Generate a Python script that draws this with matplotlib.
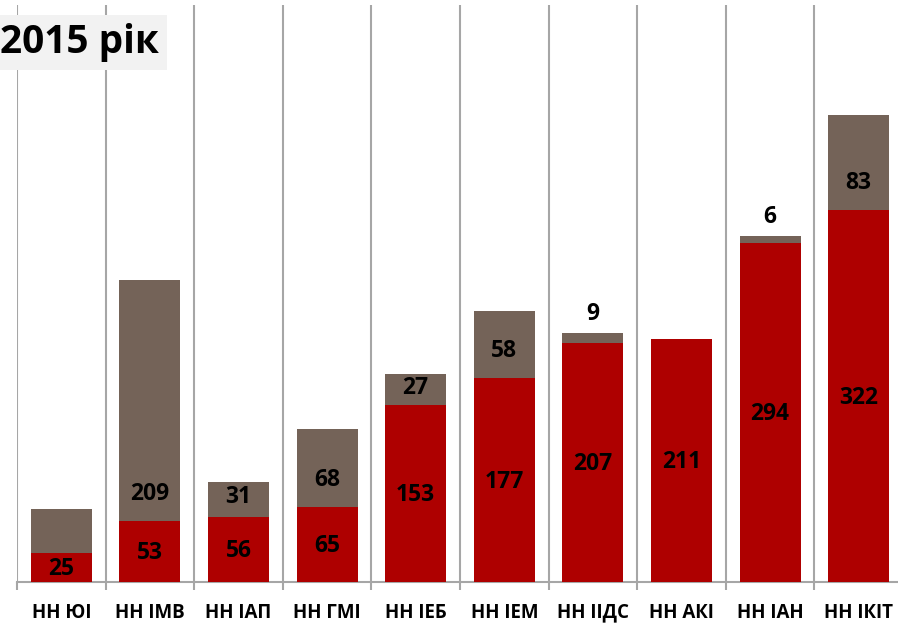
import matplotlib.pyplot as plt
import numpy as np

categories = ['НН ЮІ', 'НН ІМВ', 'НН ІАП', 'НН ГМІ', 'НН ІЕБ',
              'НН ІЕМ', 'НН ІІДС', 'НН АКІ', 'НН ІАН', 'НН ІКІТ']
red_vals = [25, 53, 56, 65, 153, 177, 207, 211, 294, 322]
brown_vals = [38, 209, 31, 68, 27, 58, 9, 0, 6, 83]
brown_labels = ['', '209', '31', '68', '27', '58', '9', '', '6', '83']

red = '#AE0000'
brown = '#746358'
grid_col = '#A6A6A6'

plt.rcParams['font.family'] = ['Open Sans', 'DejaVu Sans']

fig = plt.figure(figsize=(8.98, 6.29), dpi=100)
ax = fig.add_axes([17 / 898, 47 / 629, 886 / 898, 577 / 629])

x = np.arange(len(categories))
w = 0.69
ax.bar(x, red_vals, width=w, color=red, zorder=3)
ax.bar(x, brown_vals, width=w, bottom=red_vals, color=brown, zorder=3)

# labels for the red part, centred in the segment
for i, v in enumerate(red_vals):
    ax.text(x[i], v / 2 - 1.5, str(v), ha='center', va='center',
            fontsize=16.5, fontweight='bold', zorder=4)

# labels for the brown part: a bit above the red part, or above the bar if thin
for i, lab in enumerate(brown_labels):
    if not lab:
        continue
    if brown_vals[i] < 15:
        ax.annotate(lab, (x[i], red_vals[i] + brown_vals[i]), xytext=(0, 5),
                    textcoords='offset points', ha='center', va='bottom',
                    fontsize=16.5, fontweight='bold', zorder=4)
    else:
        y = red_vals[i] + min(23.4, brown_vals[i] / 2 + 2)
        ax.text(x[i], y, lab, ha='center', va='center',
                fontsize=16.5, fontweight='bold', zorder=4)

ax.set_xlim(-0.5, len(categories) - 0.5)
ax.set_ylim(0, 500)

bounds = np.arange(-0.5, len(categories), 1.0)
for b in bounds:
    ax.axvline(b, color=grid_col, linewidth=1.5, zorder=1)

for s in ['left', 'right', 'top']:
    ax.spines[s].set_visible(False)
ax.spines['bottom'].set_color(grid_col)
ax.spines['bottom'].set_linewidth(1.5)

ax.set_yticks([])
ax.set_xticks(x)
ax.set_xticklabels(categories, fontsize=13.5, fontweight='bold')
ax.tick_params(axis='x', which='major', length=0, pad=15)
ax.set_xticks(bounds, minor=True)
ax.tick_params(axis='x', which='minor', length=6, width=1.5, color=grid_col)

fig.text(0.0, 0.932, '2015 рік', fontsize=28, fontweight='bold',
         ha='left', va='center',
         bbox=dict(boxstyle='square,pad=0.2', facecolor='#F2F2F2', edgecolor='none'))

fig.savefig('out.png', dpi=100)
